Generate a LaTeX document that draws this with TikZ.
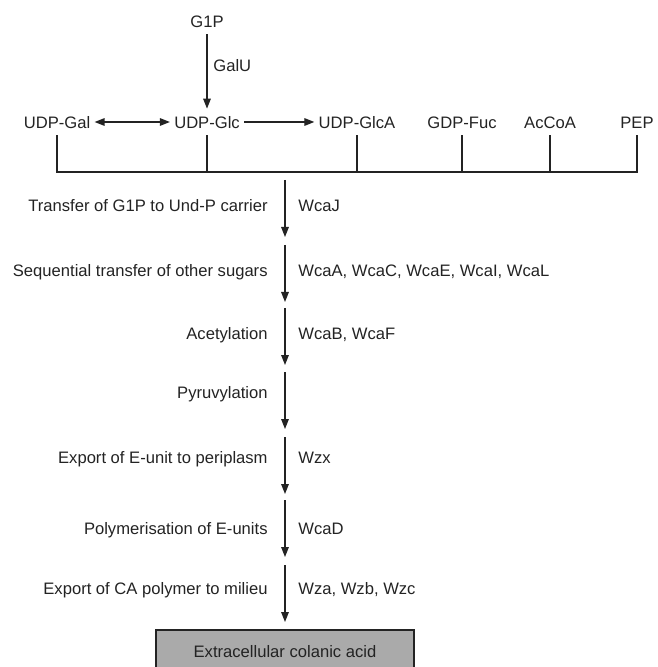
\documentclass[tikz,border=0pt]{standalone}
\usepackage{fontspec}
\setmainfont{Liberation Sans}
\usetikzlibrary{arrows.meta}

\definecolor{ink}{RGB}{35,35,35}
\definecolor{boxgray}{RGB}{170,170,170}

\tikzset{
    txt/.style={text=ink, font=\fontsize{8.3pt}{10pt}\selectfont,
        text height=0.9em, text depth=0.2em, inner xsep=2pt, inner ysep=1pt},
    steptxt/.style={txt, inner sep=0pt},
    flow/.style={draw=ink, line width=0.65pt, -{Triangle[length=5pt,width=3.8pt]}},
    tick/.style={draw=ink, line width=0.65pt}
}

\begin{document}
\begin{tikzpicture}[x=0.5pt, y=-0.5pt]
    \useasboundingbox (0,0) rectangle (657,667);

    % precursors
    \begin{scope}[every node/.style={txt}]
        \node (g1p) at (207,21) {G1P};
        \node (gal) at (57,122) {UDP-Gal};
        \node (glc) at (207,122) {UDP-Glc};
        \node (glca) at (357,122) {UDP-GlcA};
        \node (fuc) at (462,122) {GDP-Fuc};
        \node (acoa) at (550,122) {AcCoA};
        \node (pep) at (637,122) {PEP};
        \node[inner sep=0pt, anchor=west] (galu) at (213,65) {GalU};
    \end{scope}

    \draw[flow] (g1p) -- (glc);
    \draw[flow, {Triangle[length=5pt,width=3.8pt]}-{Triangle[length=5pt,width=3.8pt]}] (gal) -- (glc);
    \draw[flow] (glc) -- (glca);

    % collecting bar
    \coordinate (bar) at (57,172);
    \draw[tick] (gal.south) -- (gal.south |- bar) -| (pep.south);
    \foreach \n in {glc,glca,fuc,acoa}
        \draw[tick] (\n.south) -- (\n.south |- bar);

    % assembly steps
    \foreach \i/\top/\ty/\lab/\enz in {
        1/180/205/{Transfer of G1P to Und-P carrier}/{WcaJ},
        2/245/270/{Sequential transfer of other sugars}/{WcaA, WcaC, WcaE, WcaI, WcaL},
        3/308/332/{Acetylation}/{WcaB, WcaF},
        4/372/391/{Pyruvylation}/{},
        5/437/456/{Export of E-unit to periplasm}/{Wzx},
        6/500/527/{Polymerisation of E-units}/{WcaD},
        7/565/587/{Export of CA polymer to milieu}/{Wza, Wzb, Wzc}} {
        \coordinate (t\i) at (285,\top);
        \coordinate (b\i) at (285,\top+57);
        \node[steptxt, anchor=east] (l\i) at (268,\ty) {\lab};
        \node[steptxt, anchor=west] (r\i) at (298,\ty) {\enz};
        \draw[flow] (t\i) -- (b\i);
    }

    \node[txt, draw=ink, line width=0.65pt, fill=boxgray, minimum width=129pt,
        minimum height=20pt] (ca) at (285,650) {Extracellular colanic acid};
\end{tikzpicture}
\end{document}
